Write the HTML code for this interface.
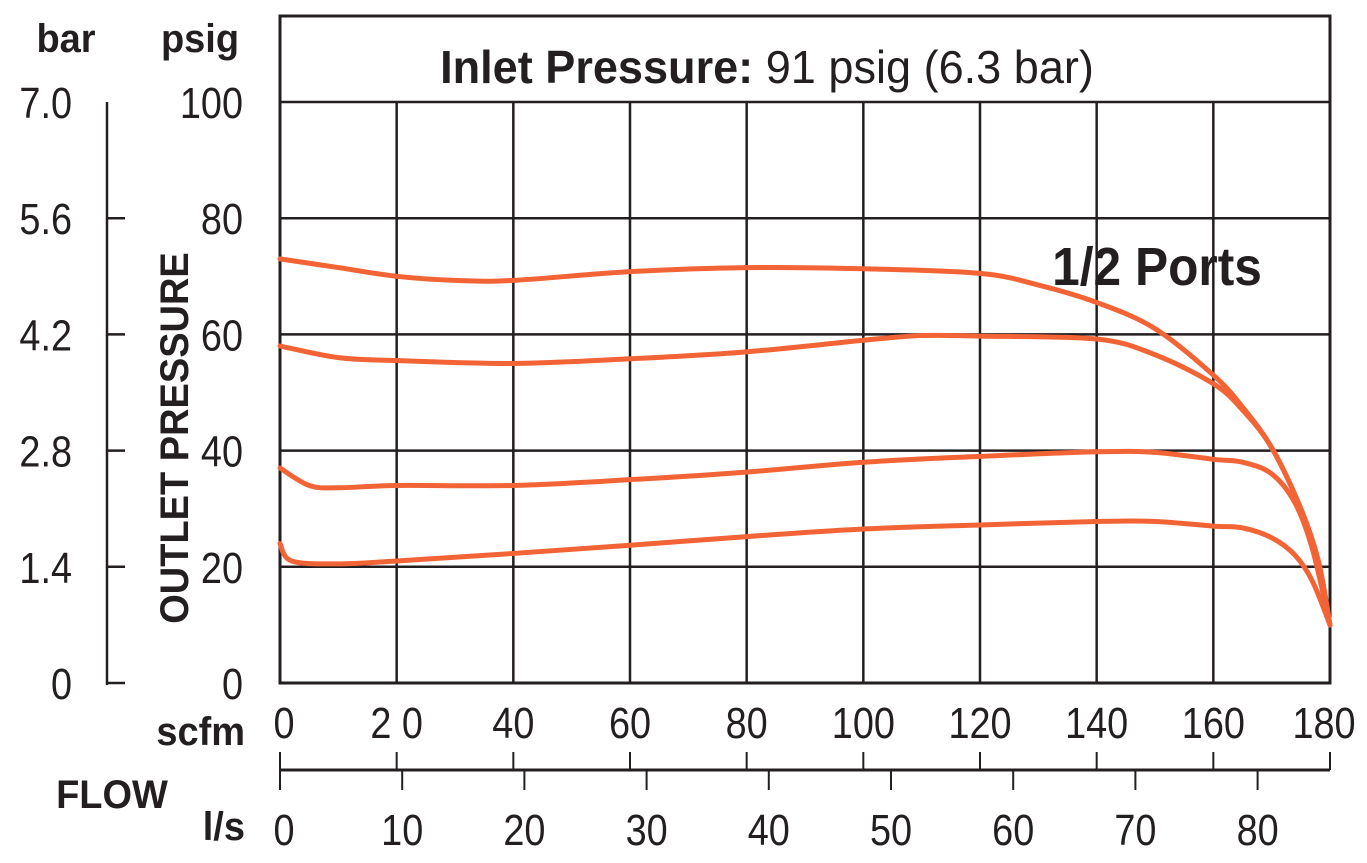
<!DOCTYPE html>
<html><head><meta charset="utf-8"><style>
body{margin:0;background:#fff}
svg text{font-family:"Liberation Sans",sans-serif;fill:#231f20}
</style></head><body>
<svg id="c" width="1367" height="858">
<g id="g"></g>
</svg>
<script>
const scfmTicks=[0,20,40,60,80,100,120,140,160,180];
const lsTicks=[0,10,20,30,40,50,60,70,80];
const psigTicks=[0,20,40,60,80,100];
const barTicks=["0","1.4","2.8","4.2","5.6","7.0"];
const c1x=[0,10,20,30,40,60,80,100,120,130,140,150,160,165,170,175,178,180];
const c1y=[73,71.5,70,69.3,69.3,70.8,71.5,71.3,70.5,68.5,65.5,61,53,47.5,40.5,30,21,10];
const c2x=[0,10,20,40,60,80,100,110,120,140,150,160,165,170,175,178,180];
const c2y=[58,56,55.5,55,55.8,57,59,59.8,59.7,59.2,56.5,51.5,47,40.5,30,21,10];
const c3x=[0,5,10,20,40,60,80,100,120,140,150,160,165,170,174,177,180];
const c3y=[37,34,33.6,34,34,35,36.3,38,39,39.8,39.7,38.5,38,36,31,23,10];
const c4x=[0,2,10,20,40,60,80,100,120,140,150,160,165,170,174,177,180];
const c4y=[24,21,20.5,21,22.3,23.7,25.2,26.5,27.2,27.8,27.8,27,26.7,25,22,17.5,10];
const X=v=>280+v*(1050/180), Y=v=>683-v*5.81, XL=v=>280+v*12.22;
const g=document.getElementById('g');let h='';
function L(x1,y1,x2,y2,w,n){h+=`<line x1="${x1}" y1="${y1}" x2="${x2}" y2="${y2}" stroke="#231f20" stroke-width="${w}"/>`;}
function T(x,y,s,t,a,n,b,sx){h+=`<text transform="translate(${x},${y}) scale(${sx||0.86},1)" font-size="${s}" text-anchor="${a}" ${b?'font-weight="bold"':''}>${t}</text>`;}
h+=`<rect x="280" y="16" width="1050" height="667" fill="none" stroke="#231f20" stroke-width="3"/>`;
psigTicks.forEach(v=>{L(280,Y(v),1330,Y(v),2.5,'grid-h');T(243,Y(v)+16,44,v,'end','psig-tick-label');});
scfmTicks.forEach(v=>{if(v>0&&v<180)L(X(v),Y(100),X(v),683,2.5,'grid-v');T(X(v)+(v==180?-6:v==0?4:0),738,44,v==20?'2 0':v,'middle','scfm-tick-label');L(X(v),752,X(v),770,2,'scfm-tick');});
L(280,770,1330,770,3,'flow-axis-line');
lsTicks.forEach(v=>{L(XL(v),770,XL(v),790,2,'ls-tick');T(XL(v)+(v==0?4:0),845,44,v,'middle','ls-tick-label');});
L(107,102,107,685,2.5,'bar-axis-line');
barTicks.forEach((t,i)=>{const y=Y(i*20);if(i<5)L(107,y,125,y,2.5,'bar-tick');T(72,y+16,44,t,'end','bar-tick-label');});
T(66,52,40,'bar','middle','bar-unit-label',1,0.95);T(200,52,40,'psig','middle','psig-unit-label',1,0.95);
T(245,745,40,'scfm','end','scfm-unit-label',1,0.95);T(245,840,40,'l/s','end','ls-unit-label',1,0.95);
T(112,808,40,'FLOW','middle','flow-label',1,0.95);
h+=`<text transform="translate(188,438) rotate(-90) scale(0.95,1)" font-size="40" font-weight="bold" text-anchor="middle">OUTLET PRESSURE</text>`;
h+=`<text transform="translate(767,83) scale(0.98,1)" font-size="46" text-anchor="middle"><tspan font-weight="bold">Inlet Pressure:</tspan> 91 psig (6.3 bar)</text>`;
T(1157,285,54,'1/2 Ports','middle','series-label',1,0.92);
function path(xs,ys){const p=xs.map((x,i)=>[X(x),Y(ys[i])]);let d=`M${p[0][0]},${p[0][1]}`;
for(let i=0;i<p.length-1;i++){const p0=p[i-1]||p[i],p1=p[i],p2=p[i+1],p3=p[i+2]||p2;
d+=` C${p1[0]+(p2[0]-p0[0])/6},${p1[1]+(p2[1]-p0[1])/6} ${p2[0]-(p3[0]-p1[0])/6},${p2[1]-(p3[1]-p1[1])/6} ${p2[0]},${p2[1]}`;}return d;}
[[c1x,c1y],[c2x,c2y],[c3x,c3y],[c4x,c4y]].forEach((s,i)=>{h+=`<path d="${path(s[0],s[1])}" fill="none" stroke="#f26436" stroke-width="5" stroke-linecap="round"/>`;});
g.innerHTML=h;
</script>
</body></html>
